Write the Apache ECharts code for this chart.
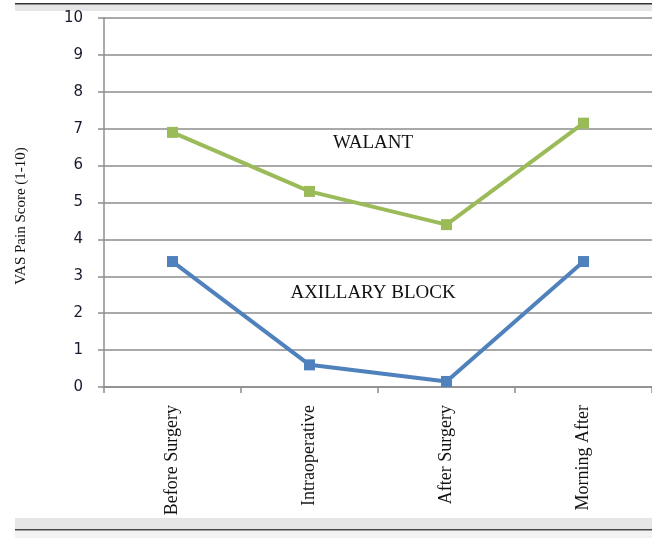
<!DOCTYPE html>
<html><head><meta charset="utf-8">
<script src="https://cdn.jsdelivr.net/npm/echarts@6/dist/echarts.min.js"></script>
<style>html,body{margin:0;padding:0;background:#fff}#c{width:652px;height:538px}</style>
</head><body><div id="c"></div>
<script>
const categories = ['Before Surgery', 'Intraoperative', 'After Surgery', 'Morning After'];
const walant = [6.9, 5.3, 4.4, 7.15];
const axillary = [3.4, 0.6, 0.15, 3.4];
const yTicks = [0, 1, 2, 3, 4, 5, 6, 7, 8, 9, 10];
const labelWalant = 'WALANT';
const labelAxillary = 'AXILLARY BLOCK';
const yTitle = 'VAS Pain Score (1-10)';

const chart = echarts.init(document.getElementById('c'), null, {renderer: 'canvas'});
chart.setOption({
  animation: false,
  backgroundColor: '#fff',
  grid: {left: 104, right: -5, top: 18, bottom: 151, containLabel: false},
  xAxis: {
    type: 'category', data: categories, boundaryGap: true,
    axisLine: {lineStyle: {color: '#8c8c8c', width: 1.5}},
    axisTick: {show: true, length: 6, lineStyle: {color: '#8c8c8c', width: 1.5}},
    axisLabel: {rotate: 90, margin: 18, color: '#111', fontFamily: 'Liberation Serif', fontSize: 18}
  },
  yAxis: {
    type: 'value', min: yTicks[0], max: yTicks[yTicks.length - 1], interval: 1,
    axisLine: {show: true, lineStyle: {color: '#8c8c8c', width: 1.5}},
    axisTick: {show: true, length: 6, lineStyle: {color: '#8c8c8c', width: 1.5}},
    axisLabel: {margin: 21, color: '#1a1a2e', fontFamily: 'DejaVu Sans', fontSize: 15, padding: [6, 0, 0, 0]},
    splitLine: {lineStyle: {color: '#8c8c8c', width: 1.5}}
  },
  series: [
    {type: 'line', data: walant, symbol: 'rect', symbolSize: 11,
     lineStyle: {color: '#9bbb59', width: 4}, itemStyle: {color: '#9bbb59'}},
    {type: 'line', data: axillary, symbol: 'rect', symbolSize: 11,
     lineStyle: {color: '#4f81bd', width: 4}, itemStyle: {color: '#4f81bd'}}
  ],
  graphic: [
    {type: 'rect', left: 15, top: 4, shape: {width: 640, height: 7}, style: {fill: '#e6e6e6'}, z: -1},
    {type: 'rect', left: 15, top: 3, shape: {width: 640, height: 1.5}, style: {fill: '#333'}, z: -1},
    {type: 'rect', left: 15, top: 518, shape: {width: 640, height: 11}, style: {fill: '#e6e6e6'}, z: 100},
    {type: 'rect', left: 15, top: 529, shape: {width: 640, height: 1.5}, style: {fill: '#444'}, z: 101},
    {type: 'rect', left: 15, top: 531, shape: {width: 640, height: 7}, style: {fill: '#f2f2f2'}, z: 100},
    {type: 'text', x: 21, y: 216, rotation: Math.PI / 2, style: {text: yTitle, fontFamily: 'Liberation Serif', fontSize: 15, fill: '#111', align: 'center', verticalAlign: 'middle'}, z: 50},
    {type: 'text', x: 373, y: 143, style: {text: labelWalant, fontFamily: 'Liberation Serif', fontSize: 19, fill: '#111', align: 'center', verticalAlign: 'middle'}, z: 50},
    {type: 'text', x: 373, y: 293, style: {text: labelAxillary, fontFamily: 'Liberation Serif', fontSize: 19, fill: '#111', align: 'center', verticalAlign: 'middle'}, z: 50}
  ]
});
</script>
</body></html>
